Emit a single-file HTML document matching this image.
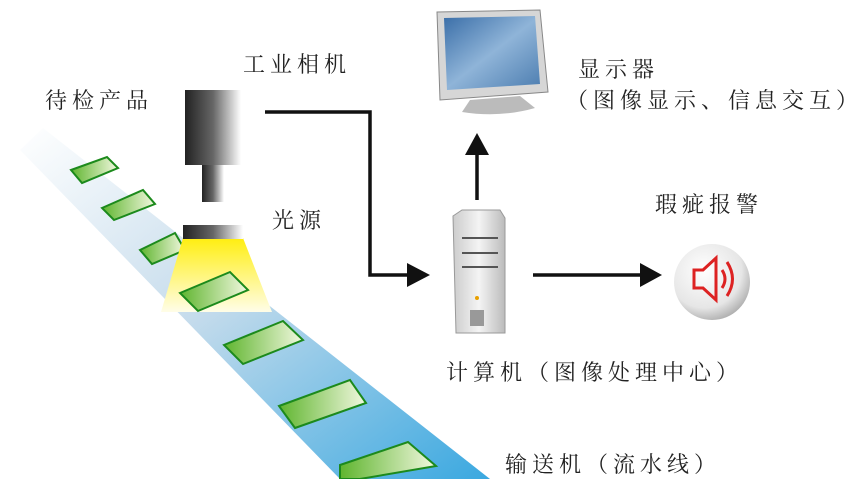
<!DOCTYPE html>
<html><head><meta charset="utf-8"><style>
body{margin:0;width:852px;height:479px;overflow:hidden;background:#fff}
svg{display:block}
text{font-family:"Liberation Serif","Noto Serif CJK SC",serif;font-size:22px;fill:#222;letter-spacing:5px}
</style></head><body>
<svg width="852" height="479" viewBox="0 0 852 479">
<defs>
<linearGradient id="belt" x1="0" y1="0" x2="1" y2="1">
<stop offset="0" stop-color="#fff"/><stop offset="0.45" stop-color="#c6dcec"/><stop offset="1" stop-color="#3aa8e0"/></linearGradient>
<linearGradient id="grn" x1="0" y1="0" x2="1" y2="0"><stop offset="0" stop-color="#5fb52e"/><stop offset="1" stop-color="#f2f8e0"/></linearGradient>
<linearGradient id="cam" x1="0" y1="0" x2="1" y2="0"><stop offset="0" stop-color="#222"/><stop offset="0.5" stop-color="#666"/><stop offset="1" stop-color="#fff"/></linearGradient>
<linearGradient id="lit" x1="0" y1="0" x2="0" y2="1"><stop offset="0" stop-color="#ffee10"/><stop offset="1" stop-color="#fffde8"/></linearGradient>
<radialGradient id="btn" cx="0.4" cy="0.35" r="0.7"><stop offset="0" stop-color="#fff"/><stop offset="0.7" stop-color="#e6e6e6"/><stop offset="1" stop-color="#aaa"/></radialGradient>
<linearGradient id="tow" x1="0" y1="0" x2="1" y2="0"><stop offset="0" stop-color="#ccc"/><stop offset="0.5" stop-color="#f4f4f4"/><stop offset="1" stop-color="#bbb"/></linearGradient>
<linearGradient id="scr" x1="0" y1="0" x2="1" y2="1"><stop offset="0" stop-color="#3a6ea8"/><stop offset="0.5" stop-color="#8fb4d8"/><stop offset="1" stop-color="#4c7db0"/></linearGradient>
</defs>
<polygon points="20,150 43,128 490,479 340,479" fill="url(#belt)"/>
<g fill="url(#grn)" stroke="#1c8a1c" stroke-width="2">
<polygon points="140,250 175,233 185,250 152,264"/>
</g>
<polygon points="183,238 243,238 272,312 161,312" fill="url(#lit)"/>
<g fill="url(#grn)" stroke="#1c8a1c" stroke-width="2">
<polygon points="71,170 107,157 118,168 82,183"/>
<polygon points="102,208 143,190 155,204 114,220"/>
<polygon points="180,293 230,272 248,290 198,311"/>
<polygon points="224,345 283,321 303,340 243,364"/>
<polygon points="279,406 350,380 366,403 295,428"/>
<polygon points="340,465 408,442 436,466 360,479 340,479"/>
</g>
<rect x="185" y="90" width="56" height="75" fill="url(#cam)"/>
<rect x="202" y="165" width="22" height="37" fill="url(#cam)"/>
<rect x="183" y="225" width="60" height="14" fill="url(#cam)"/>
<g stroke="#111" stroke-width="3.5" fill="none">
<polyline points="265,112 370,112 370,275 412,275"/>
<line x1="477" y1="200" x2="477" y2="152"/>
<line x1="533" y1="275" x2="645" y2="275"/>
</g>
<g fill="#111">
<polygon points="407,263 430,275 407,287"/>
<polygon points="465,155 477,133 489,155"/>
<polygon points="640,263 662,275 640,287"/>
</g>
<polygon points="437,12 540,10 548,92 440,100" fill="#d6d6d6" stroke="#888"/>
<polygon points="444,18 535,16 540,84 447,90" fill="url(#scr)"/>
<path d="M470,100 L520,96 L535,108 Q500,118 462,112 Z" fill="#bbb"/>
<polygon points="453,216 462,210 500,210 505,218 505,333 456,333" fill="url(#tow)" stroke="#999"/>
<g stroke="#555" stroke-width="2"><line x1="462" y1="238" x2="498" y2="238"/><line x1="462" y1="253" x2="498" y2="253"/><line x1="462" y1="267" x2="498" y2="267"/></g>
<rect x="470" y="310" width="14" height="16" fill="#999"/>
<circle cx="477" cy="298" r="2" fill="#e8a000"/>
<circle cx="712" cy="282" r="38" fill="url(#btn)"/>
<g fill="none" stroke="#d22" stroke-width="3"><path d="M694,270 L703,270 L716,258 L716,300 L703,288 L694,288 Z"/><path d="M722,270 Q728,279 722,288"/><path d="M727,262 Q738,279 727,296"/></g>
<text x="243" y="72">工业相机</text>
<text x="45" y="108">待检产品</text>
<text x="272" y="228">光源</text>
<text x="578" y="77">显示器</text>
<text x="566" y="108">（图像显示、信息交互）</text>
<text x="655" y="212">瑕疵报警</text>
<text x="446" y="380">计算机（图像处理中心）</text>
<text x="505" y="472">输送机（流水线）</text>
</svg>
</body></html>
